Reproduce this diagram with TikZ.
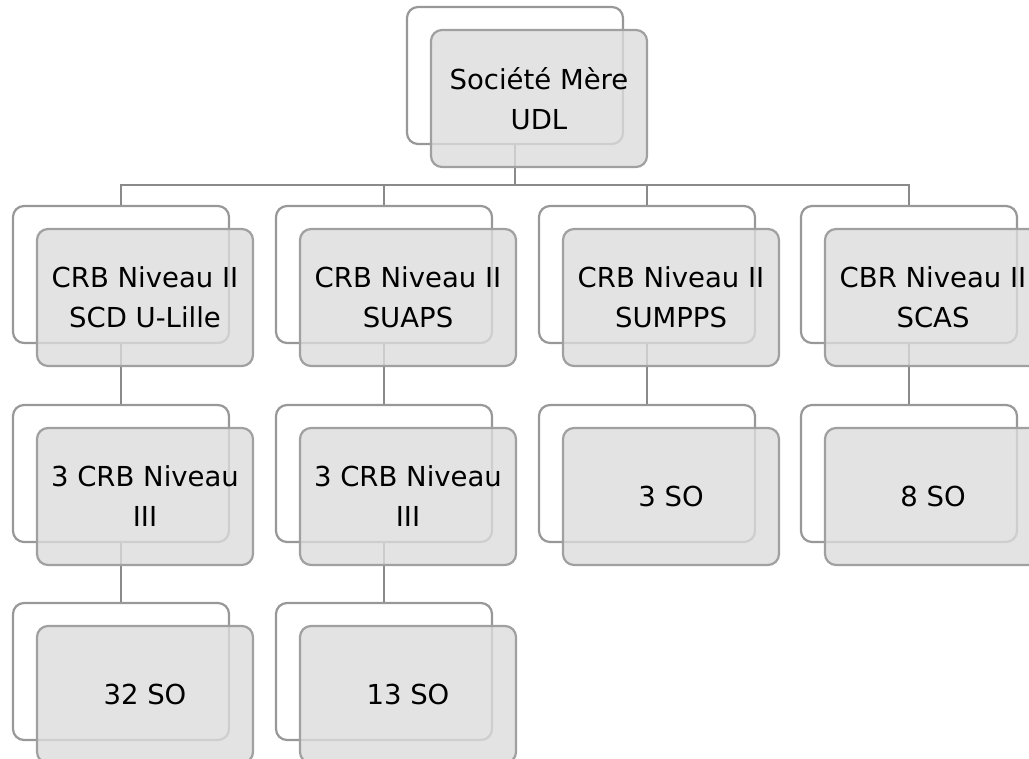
\documentclass[tikz,border=0pt]{standalone}
\usepackage{fontspec}
\setmainfont{DejaVu Sans}
\definecolor{linec}{HTML}{8A8A8A}
\definecolor{backc}{HTML}{989898}
\definecolor{frontc}{HTML}{A0A0A0}
\definecolor{fillc}{HTML}{DCDCDC}
\begin{document}
\begin{tikzpicture}[x=1pt,y=-1pt,
  backbox/.style={draw=backc, line width=2.2pt, rounded corners=11pt, fill=white,
    minimum width=216pt, minimum height=137pt, inner sep=0pt},
  frontbox/.style={draw=frontc, line width=2.2pt, rounded corners=11pt, fill=fillc,
    fill opacity=0.8, draw opacity=1, text opacity=1,
    minimum width=216pt, minimum height=137pt, inner sep=0pt, align=center,
    font=\fontsize{27.5}{40}\selectfont},
  conn/.style={draw=linec, line width=2.4pt}]
\useasboundingbox (0,0) rectangle (1029,759);
% back boxes
\node[backbox] (b0) at (515,75.5) {};
\node[backbox] (b11) at (121,274.5) {};
\node[backbox] (b12) at (121,473.5) {};
\node[backbox] (b13) at (121,671.5) {};
\node[backbox] (b21) at (384,274.5) {};
\node[backbox] (b22) at (384,473.5) {};
\node[backbox] (b23) at (384,671.5) {};
\node[backbox] (b31) at (647,274.5) {};
\node[backbox] (b32) at (647,473.5) {};
\node[backbox] (b41) at (909,274.5) {};
\node[backbox] (b42) at (909,473.5) {};
% connectors
\coordinate (bus) at (515,185);
\draw[conn] (b0.south) -- (bus);
\draw[conn] (b11.north) |- (bus);
\draw[conn] (b41.north) |- (bus);
\draw[conn] (b21.north) -- (b21.north |- bus);
\draw[conn] (b31.north) -- (b31.north |- bus);
\draw[conn] (b11.south) -- (b12.north);
\draw[conn] (b12.south) -- (b13.north);
\draw[conn] (b21.south) -- (b22.north);
\draw[conn] (b22.south) -- (b23.north);
\draw[conn] (b31.south) -- (b32.north);
\draw[conn] (b41.south) -- (b42.north);
% front boxes
\node[frontbox] (f0) at (539,98.5) {Société Mère\\UDL};
\node[frontbox] (f11) at (145,297.5) {CRB Niveau II\\SCD U-Lille};
\node[frontbox] (f12) at (145,496.5) {3 CRB Niveau\\III};
\node[frontbox] (f13) at (145,694.5) {32 SO};
\node[frontbox] (f21) at (408,297.5) {CRB Niveau II\\SUAPS};
\node[frontbox] (f22) at (408,496.5) {3 CRB Niveau\\III};
\node[frontbox] (f23) at (408,694.5) {13 SO};
\node[frontbox] (f31) at (671,297.5) {CRB Niveau II\\SUMPPS};
\node[frontbox] (f32) at (671,496.5) {3 SO};
\node[frontbox] (f41) at (933,297.5) {CBR Niveau II\\SCAS};
\node[frontbox] (f42) at (933,496.5) {8 SO};
\end{tikzpicture}
\end{document}
